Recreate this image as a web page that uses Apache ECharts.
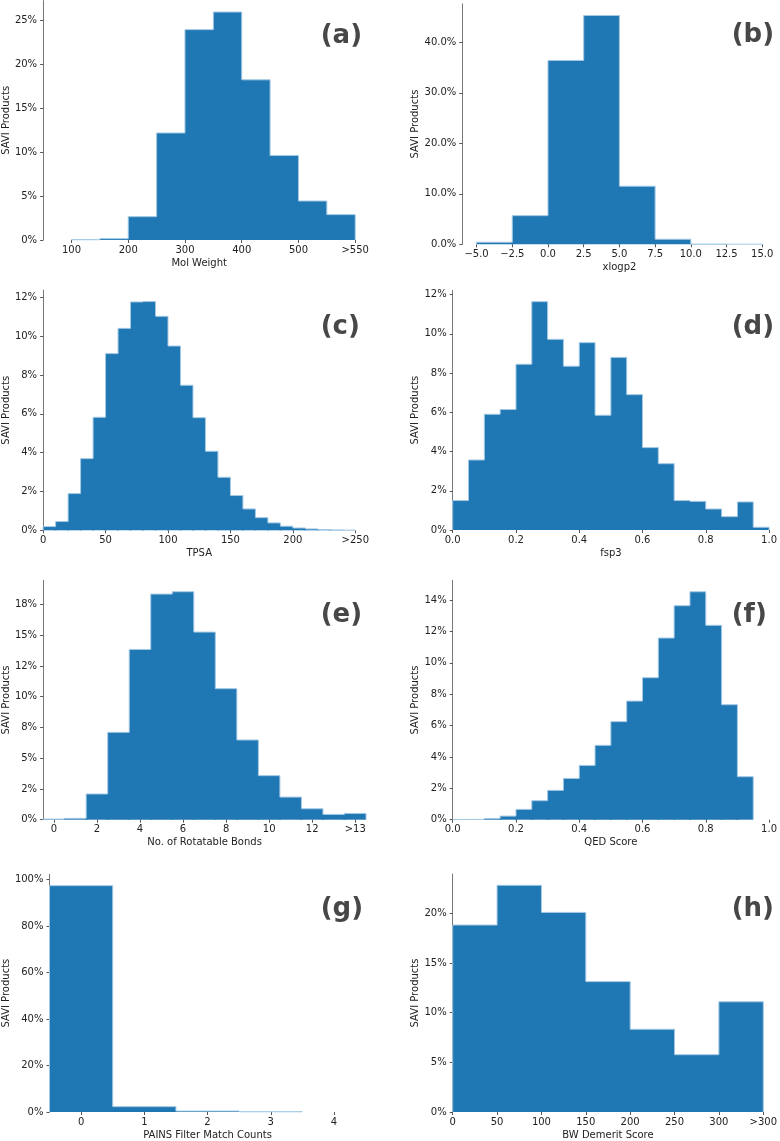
<!DOCTYPE html>
<html>
<head>
<meta charset="utf-8">
<script src="https://cdn.jsdelivr.net/npm/echarts@6/dist/echarts.min.js"></script>
<style>
html,body{margin:0;padding:0;background:#fff;}
#chart{width:780px;height:1141px;}
</style>
</head>
<body>
<div id="chart"></div>
<script>
// ---------- DATA ----------
// (a) Mol Weight
const molWeightBins = [100,150,200,250,300,350,400,450,500,550];
const molWeightWidth = 50;
const molWeightPct = [0.03,0.15,2.65,12.16,23.9,25.9,18.2,9.6,4.43,2.88];
const molWeightTicks = [100,200,300,400,500,600];
const molWeightTickLabels = ['100','200','300','400','500','>550'];

// (b) xlogp2
const xlogpBins = [-5,-2.5,0,2.5,5,7.5,10,12.5];
const xlogpWidth = 2.5;
const xlogpPct = [0.4,5.67,36.4,45.3,11.5,1.0,0.05,0.02];
const xlogpTicks = [-5,-2.5,0,2.5,5,7.5,10,12.5,15];
const xlogpTickLabels = ['\u22125.0','\u22122.5','0.0','2.5','5.0','7.5','10.0','12.5','15.0'];

// (c) TPSA
const tpsaBins = [0,10,20,30,40,50,60,70,80,90,100,110,120,130,140,150,160,170,180,190,200,210,220,230,240];
const tpsaWidth = 10;
const tpsaPct = [0.19,0.45,1.89,3.69,5.82,9.10,10.40,11.76,11.78,11.02,9.49,7.47,5.80,4.07,2.73,1.79,1.10,0.65,0.38,0.21,0.12,0.07,0.04,0.02,0.01];
const tpsaTicks = [0,50,100,150,200,250];
const tpsaTickLabels = ['0','50','100','150','200','>250'];

// (d) fsp3
const fsp3Bins = [0,0.05,0.1,0.15,0.2,0.25,0.3,0.35,0.4,0.45,0.5,0.55,0.6,0.65,0.7,0.75,0.8,0.85,0.9,0.95];
const fsp3Width = 0.05;
const fsp3Pct = [1.50,3.57,5.90,6.14,8.45,11.64,9.72,8.35,9.55,5.85,8.80,6.90,4.20,3.38,1.50,1.46,1.07,0.68,1.43,0.14];
const unitTicks = [0,0.2,0.4,0.6,0.8,1.0];
const unitTickLabels = ['0.0','0.2','0.4','0.6','0.8','1.0'];

// (e) No. of Rotatable Bonds
const rotBins = [-0.5,0.5,1.5,2.5,3.5,4.5,5.5,6.5,7.5,8.5,9.5,10.5,11.5,12.5,13.5];
const rotWidth = 1;
const rotPct = [0.05,0.11,2.09,7.10,13.84,18.34,18.53,15.25,10.65,6.48,3.58,1.84,0.89,0.43,0.51];
const rotTicks = [0,2,4,6,8,10,12,14];
const rotTickLabels = ['0','2','4','6','8','10','12','>13'];
const rotYTicks = [0,2.5,5,7.5,10,12.5,15,17.5];
const rotYTickLabels = ['0%','2%','5%','8%','10%','12%','15%','18%'];

// (f) QED Score
const qedBins = [0,0.05,0.1,0.15,0.2,0.25,0.3,0.35,0.4,0.45,0.5,0.55,0.6,0.65,0.7,0.75,0.8,0.85,0.9];
const qedWidth = 0.05;
const qedPct = [0.01,0.02,0.08,0.23,0.66,1.21,1.87,2.63,3.46,4.74,6.25,7.56,9.05,11.58,13.64,14.53,12.39,7.33,2.74];

// (g) PAINS Filter Match Counts
const painsBins = [-0.5,0.5,1.5,2.5];
const painsWidth = 1;
const painsPct = [97.4,2.3,0.4,0.1];
const painsTicks = [0,1,2,3,4];
const painsTickLabels = ['0','1','2','3','4'];

// (h) BW Demerit Score
const bwBins = [0,50,100,150,200,250,300];
const bwWidth = 50;
const bwPct = [18.83,22.83,20.10,13.13,8.33,5.77,11.10];
const bwTicks = [0,50,100,150,200,250,300,350];
const bwTickLabels = ['0','50','100','150','200','250','300','>300'];

// ---------- LAYOUT ----------
const FONT = '"DejaVu Sans", sans-serif';
const panels = [
  {tag:'(a)', name:'Mol Weight', bins:molWeightBins, w:molWeightWidth, pct:molWeightPct,
   xmin:50, xmax:600, xt:molWeightTicks, xl:molWeightTickLabels, ymax:27.2, yt:[0,5,10,15,20,25], yfmt:v=>v+'%',
   grid:{left:41.7, top:0.6, width:313.5, height:239.4}, ygap:31, tagX:320.7, tagY:38},
  {tag:'(b)', name:'xlogp2', bins:xlogpBins, w:xlogpWidth, pct:xlogpPct,
   xmin:-6, xmax:16, xt:xlogpTicks, xl:xlogpTickLabels, ymax:47.6, yt:[0,10,20,30,40], yfmt:v=>v.toFixed(1)+'%',
   grid:{left:462.3, top:3.9, width:314.2, height:240.4}, ygap:41, tagX:731.7, tagY:37},
  {tag:'(c)', name:'TPSA', bins:tpsaBins, w:tpsaWidth, pct:tpsaPct,
   xmin:0, xmax:250, xt:tpsaTicks, xl:tpsaTickLabels, ymax:12.37, yt:[0,2,4,6,8,10,12], yfmt:v=>v+'%',
   grid:{left:41.7, top:290.1, width:313.6, height:240.2}, ygap:31, tagX:320.7, tagY:329.5},
  {tag:'(d)', name:'fsp3', bins:fsp3Bins, w:fsp3Width, pct:fsp3Pct,
   xmin:0, xmax:1, xt:unitTicks, xl:unitTickLabels, ymax:12.22, yt:[0,2,4,6,8,10,12], yfmt:v=>v+'%',
   grid:{left:452.7, top:290.3, width:319.3, height:239.7}, ygap:31, tagX:731.7, tagY:329.5},
  {tag:'(e)', name:'No. of Rotatable Bonds', bins:rotBins, w:rotWidth, pct:rotPct,
   xmin:-0.5, xmax:14.5, xt:rotTicks, xl:rotTickLabels, ymax:19.46, yt:rotYTicks, yfmt:v=>rotYTickLabels[rotYTicks.indexOf(v)],
   grid:{left:41.7, top:580.3, width:324.3, height:239.4}, ygap:31, tagX:320.7, tagY:617.5},
  {tag:'(f)', name:'QED Score', bins:qedBins, w:qedWidth, pct:qedPct,
   xmin:0, xmax:1, xt:unitTicks, xl:unitTickLabels, ymax:15.26, yt:[0,2,4,6,8,10,12,14], yfmt:v=>v+'%',
   grid:{left:452.7, top:580.3, width:319.3, height:239.4}, ygap:31, tagX:731.7, tagY:617},
  {tag:'(g)', name:'PAINS Filter Match Counts', bins:painsBins, w:painsWidth, pct:painsPct,
   xmin:-0.5, xmax:4.5, xt:painsTicks, xl:painsTickLabels, ymax:102.3, yt:[0,20,40,60,80,100], yfmt:v=>v+'%',
   grid:{left:48.3, top:874.3, width:317.3, height:239}, ygap:38, tagX:320.7, tagY:911.5},
  {tag:'(h)', name:'BW Demerit Score', bins:bwBins, w:bwWidth, pct:bwPct,
   xmin:0, xmax:350, xt:bwTicks, xl:bwTickLabels, ymax:23.97, yt:[0,5,10,15,20], yfmt:v=>v+'%',
   grid:{left:452.7, top:874, width:313.8, height:239.7}, ygap:31, tagX:731.7, tagY:911.5}
];

const FILL = '#1f77b4';
const EDGE = '#a3c8e4';

function renderHist(params, api) {
  const x0 = api.value(0), x1 = api.value(1), y = api.value(2), yPrev = api.value(3), isLast = api.value(4);
  const pTop = api.coord([x0, y]);
  const pBot = api.coord([x1, 0]);
  const pPrev = api.coord([x0, yPrev]);
  const pts = [[pPrev[0], pPrev[1]], [pTop[0], pTop[1]], [pBot[0], pTop[1]]];
  if (isLast) pts.push([pBot[0], pBot[1]]);
  const children = [
    {type:'rect', z2:1, shape:{x:pTop[0], y:pTop[1], width:pBot[0]-pTop[0], height:pBot[1]-pTop[1]},
     style:{fill:FILL}}
  ];
  if (params.dataIndex > 0) {
    // seam filler: covers the anti-aliasing gap with the previous bin, never taller than either bin
    const pSeam = api.coord([x0, Math.min(y, yPrev)]);
    children.push({type:'rect', z2:1, shape:{x:pSeam[0]-1, y:pSeam[1], width:2, height:pBot[1]-pSeam[1]},
      style:{fill:FILL}});
  }
  children.push({type:'polyline', z2:10, shape:{points:pts}, style:{fill:null, stroke:EDGE, lineWidth:1}});
  return {type:'group', children};
}

const option = {
  animation:false,
  backgroundColor:'#fff',
  textStyle:{fontFamily:FONT},
  grid: panels.map(p => Object.assign({containLabel:false}, p.grid)),
  xAxis: panels.map((p,i) => ({
    type:'value', gridIndex:i, min:p.xmin, max:p.xmax,
    name:p.name, nameLocation:'middle', nameGap:18,
    nameTextStyle:{fontFamily:FONT, fontSize:10, color:'#222'},
    axisLine:{show:false, onZero:false},
    axisTick:{show:true, length:3, lineStyle:{color:'#555', width:1}, customValues:p.xt},
    axisLabel:{fontFamily:FONT, fontSize:10, color:'#222', margin:5, customValues:p.xt,
      formatter:(v)=>{ const k = p.xt.indexOf(v); return k>=0 ? p.xl[k] : ''; }},
    splitLine:{show:false}
  })),
  yAxis: panels.map((p,i) => ({
    type:'value', gridIndex:i, min:0, max:p.ymax,
    name:'SAVI Products', nameLocation:'middle', nameGap:p.ygap,
    nameTextStyle:{fontFamily:FONT, fontSize:10, color:'#222'},
    axisLine:{show:true, onZero:false, lineStyle:{color:'#777', width:1}},
    axisTick:{show:true, length:3, lineStyle:{color:'#555', width:1}, customValues:p.yt},
    axisLabel:{fontFamily:FONT, fontSize:10, color:'#222', margin:6, customValues:p.yt,
      formatter:(v)=>p.yfmt(v)},
    splitLine:{show:false}
  })),
  series: panels.map((p,i) => ({
    type:'custom', xAxisIndex:i, yAxisIndex:i,
    renderItem: renderHist,
    encode:{x:[0,1], y:[2]},
    data: p.bins.map((b,k) => [b, b + p.w, p.pct[k], k>0 ? p.pct[k-1] : 0, k===p.bins.length-1 ? 1 : 0]),
    clip:false
  })),
  graphic: panels.map(p => ({
    type:'text', left:p.tagX, top:p.tagY - 15,
    style:{text:p.tag, fontFamily:FONT, fontSize:26, fontWeight:'bold', fill:'#474747'}
  }))
};

const chart = echarts.init(document.getElementById('chart'), null, {renderer:'canvas'});
chart.setOption(option);
</script>
</body>
</html>
